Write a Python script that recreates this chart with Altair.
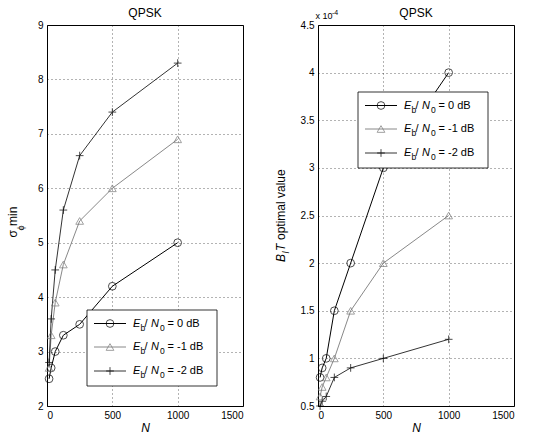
import altair as alt
import pandas as pd

FONT = "Liberation Sans"

# Block lengths N (shared by every curve)
n_values = [16, 32, 63, 125, 250, 500, 1000]

# Series names (Eb/N0 settings)
series_names = ["0 dB", "-1 dB", "-2 dB"]

# Minimum phase-error standard deviation, sigma_phi min
sigma_0db = [2.5, 2.7, 3.0, 3.3, 3.5, 4.2, 5.0]
sigma_m1db = [2.7, 3.3, 3.9, 4.6, 5.4, 6.0, 6.9]
sigma_m2db = [2.8, 3.6, 4.5, 5.6, 6.6, 7.4, 8.3]

# Optimal loop bandwidth B_l T, in units of 1e-4
bt_0db = [0.8, 0.9, 1.0, 1.5, 2.0, 3.0, 4.0]
bt_m1db = [0.6, 0.7, 0.8, 1.0, 1.5, 2.0, 2.5]
bt_m2db = [0.5, 0.55, 0.6, 0.8, 0.9, 1.0, 1.2]

x_ticks = [0, 500, 1000, 1500]
left_y_ticks = [2, 3, 4, 5, 6, 7, 8, 9]
right_y_ticks = [0.5, 1, 1.5, 2, 2.5, 3, 3.5, 4, 4.5]
panel_title = "QPSK"

PLUS = "M-1,0L1,0M0,-1L0,1"
color_scale = alt.Scale(domain=series_names, range=["#000000", "#7a7a7a", "#000000"])
width_scale = alt.Scale(domain=series_names, range=[1.0, 0.8, 1.3])
shape_scale = alt.Scale(domain=series_names, range=["circle", "triangle-up", PLUS])

W, H = 196, 381
one = pd.DataFrame({"k": [0]})


def long_frame(cols):
    rows = []
    for name, vals in zip(series_names, cols):
        for n, v in zip(n_values, vals):
            rows.append({"N": n, "value": v, "series": name})
    return pd.DataFrame(rows)


def label(text, x, y, size=12, italic=False, angle=0, align="left", baseline="middle"):
    return alt.Chart(one).mark_text(
        font=FONT, fontSize=size, fontStyle="italic" if italic else "normal",
        angle=angle, align=align, baseline=baseline, color="black",
    ).encode(x=alt.value(x), y=alt.value(y), text=alt.value(text))


def frame_anchor(x, y):
    # invisible 1px box that pins the page margin
    return alt.Chart(one).mark_rect(opacity=0).encode(
        x=alt.value(x), x2=alt.value(x + 1), y=alt.value(y), y2=alt.value(y + 1)
    )


def legend_layers(box_top):
    left, right = 40, 170
    box = alt.Chart(one).mark_rect(fill="white", stroke="black", strokeWidth=0.8).encode(
        x=alt.value(left), x2=alt.value(right),
        y=alt.value(box_top), y2=alt.value(box_top + 76),
    )
    rows = pd.DataFrame({
        "series": series_names,
        "ly": [box_top + 13.5, box_top + 37, box_top + 61],
        "rest": ["= " + s for s in series_names],
    })
    base = alt.Chart(rows)
    ly = alt.Y("ly:Q", scale=None)
    sample_line = base.mark_rule().encode(
        x=alt.value(left + 7), x2=alt.value(left + 39), y=ly,
        color=alt.Color("series:N", scale=color_scale, legend=None),
        strokeWidth=alt.StrokeWidth("series:N", scale=width_scale, legend=None),
    )
    sample_pt = base.mark_point(filled=False, size=60, strokeWidth=1).encode(
        x=alt.value(left + 23), y=ly,
        color=alt.Color("series:N", scale=color_scale, legend=None),
        shape=alt.Shape("series:N", scale=shape_scale, legend=None),
    )
    sub = alt.Y("ly_sub:Q", scale=None)

    def txt(x, text, size=11, italic=False, lowered=False):
        c = base.transform_calculate(ly_sub="datum.ly + 4").mark_text(
            font=FONT, fontSize=size, fontStyle="italic" if italic else "normal",
            align="left", baseline="middle", color="black",
        )
        return c.encode(x=alt.value(x), y=sub if lowered else ly, text=text)

    tx = left + 46
    texts = [
        txt(tx, alt.value("E"), italic=True),
        txt(tx + 7.5, alt.value("b"), size=8.5, lowered=True),
        txt(tx + 11.5, alt.value("/")),
        txt(tx + 18, alt.value("N"), italic=True),
        txt(tx + 27, alt.value("0"), size=8.5, lowered=True),
        txt(tx + 34.5, alt.Text("rest:N")),
    ]
    return [box, sample_line, sample_pt] + texts


def panel(df, y_domain, y_ticks, box_top, extra):
    x = alt.X("N:Q", scale=alt.Scale(domain=[0, 1500], nice=False),
              axis=alt.Axis(values=x_ticks, format="d", title="N", titleFontStyle="italic",
                            titleFontWeight="normal", titleFontSize=12, titleFont=FONT,
                            titlePadding=2, labelPadding=4))
    y = alt.Y("value:Q", scale=alt.Scale(domain=y_domain, nice=False, zero=False),
              axis=alt.Axis(values=y_ticks, format="~g", title=None, labelPadding=4))
    base = alt.Chart(df)
    lines = base.mark_line().encode(
        x=x, y=y,
        color=alt.Color("series:N", scale=color_scale, legend=None),
        strokeWidth=alt.StrokeWidth("series:N", scale=width_scale, legend=None),
        detail="series:N",
    )
    points = base.mark_point(filled=False, size=60, strokeWidth=1).encode(
        x=x, y=y,
        color=alt.Color("series:N", scale=color_scale, legend=None),
        shape=alt.Shape("series:N", scale=shape_scale, legend=None),
    )
    heading = label(panel_title, W / 2, -12, size=12, align="center")
    layers = [lines, points] + legend_layers(box_top) + [heading] + extra
    return alt.layer(*layers).properties(width=W, height=H)


left_extra = [
    frame_anchor(-49, -25),
    label("σ", -34, 212.5, angle=270),
    label("ϕ", -26, 205.5, size=9, angle=270),
    label("min", -34, 201, angle=270),
]
right_extra = [
    label("B", -37, 237, italic=True, angle=270),
    label("l", -32, 228.5, size=9, italic=True, angle=270),
    label("T", -37, 226, italic=True, angle=270),
    label("optimal value", -37, 215, angle=270),
    label("x 10", -2.5, -9, size=9),
    label("-4", 14, -12.5, size=7),
]

left = panel(long_frame([sigma_0db, sigma_m1db, sigma_m2db]), [2, 9], left_y_ticks, 285, left_extra)
right = panel(long_frame([bt_0db, bt_m1db, bt_m2db]), [0.5, 4.5], right_y_ticks, 67, right_extra)

chart = alt.hconcat(left, right, spacing=75, bounds="flush").properties(
    padding={"left": -3, "top": -1, "right": 0, "bottom": 0},
    background="white",
).configure_view(
    stroke="black", strokeWidth=1, fill="white",
).configure_axis(
    domain=False, ticks=False, grid=True, gridColor="black", gridDash=[1, 3],
    gridOpacity=0.75, gridWidth=0.8, labelFont=FONT, labelFontSize=10,
    labelColor="black", titleColor="black",
)

chart.save("out.html", embed_options={"renderer": "svg", "actions": False})
